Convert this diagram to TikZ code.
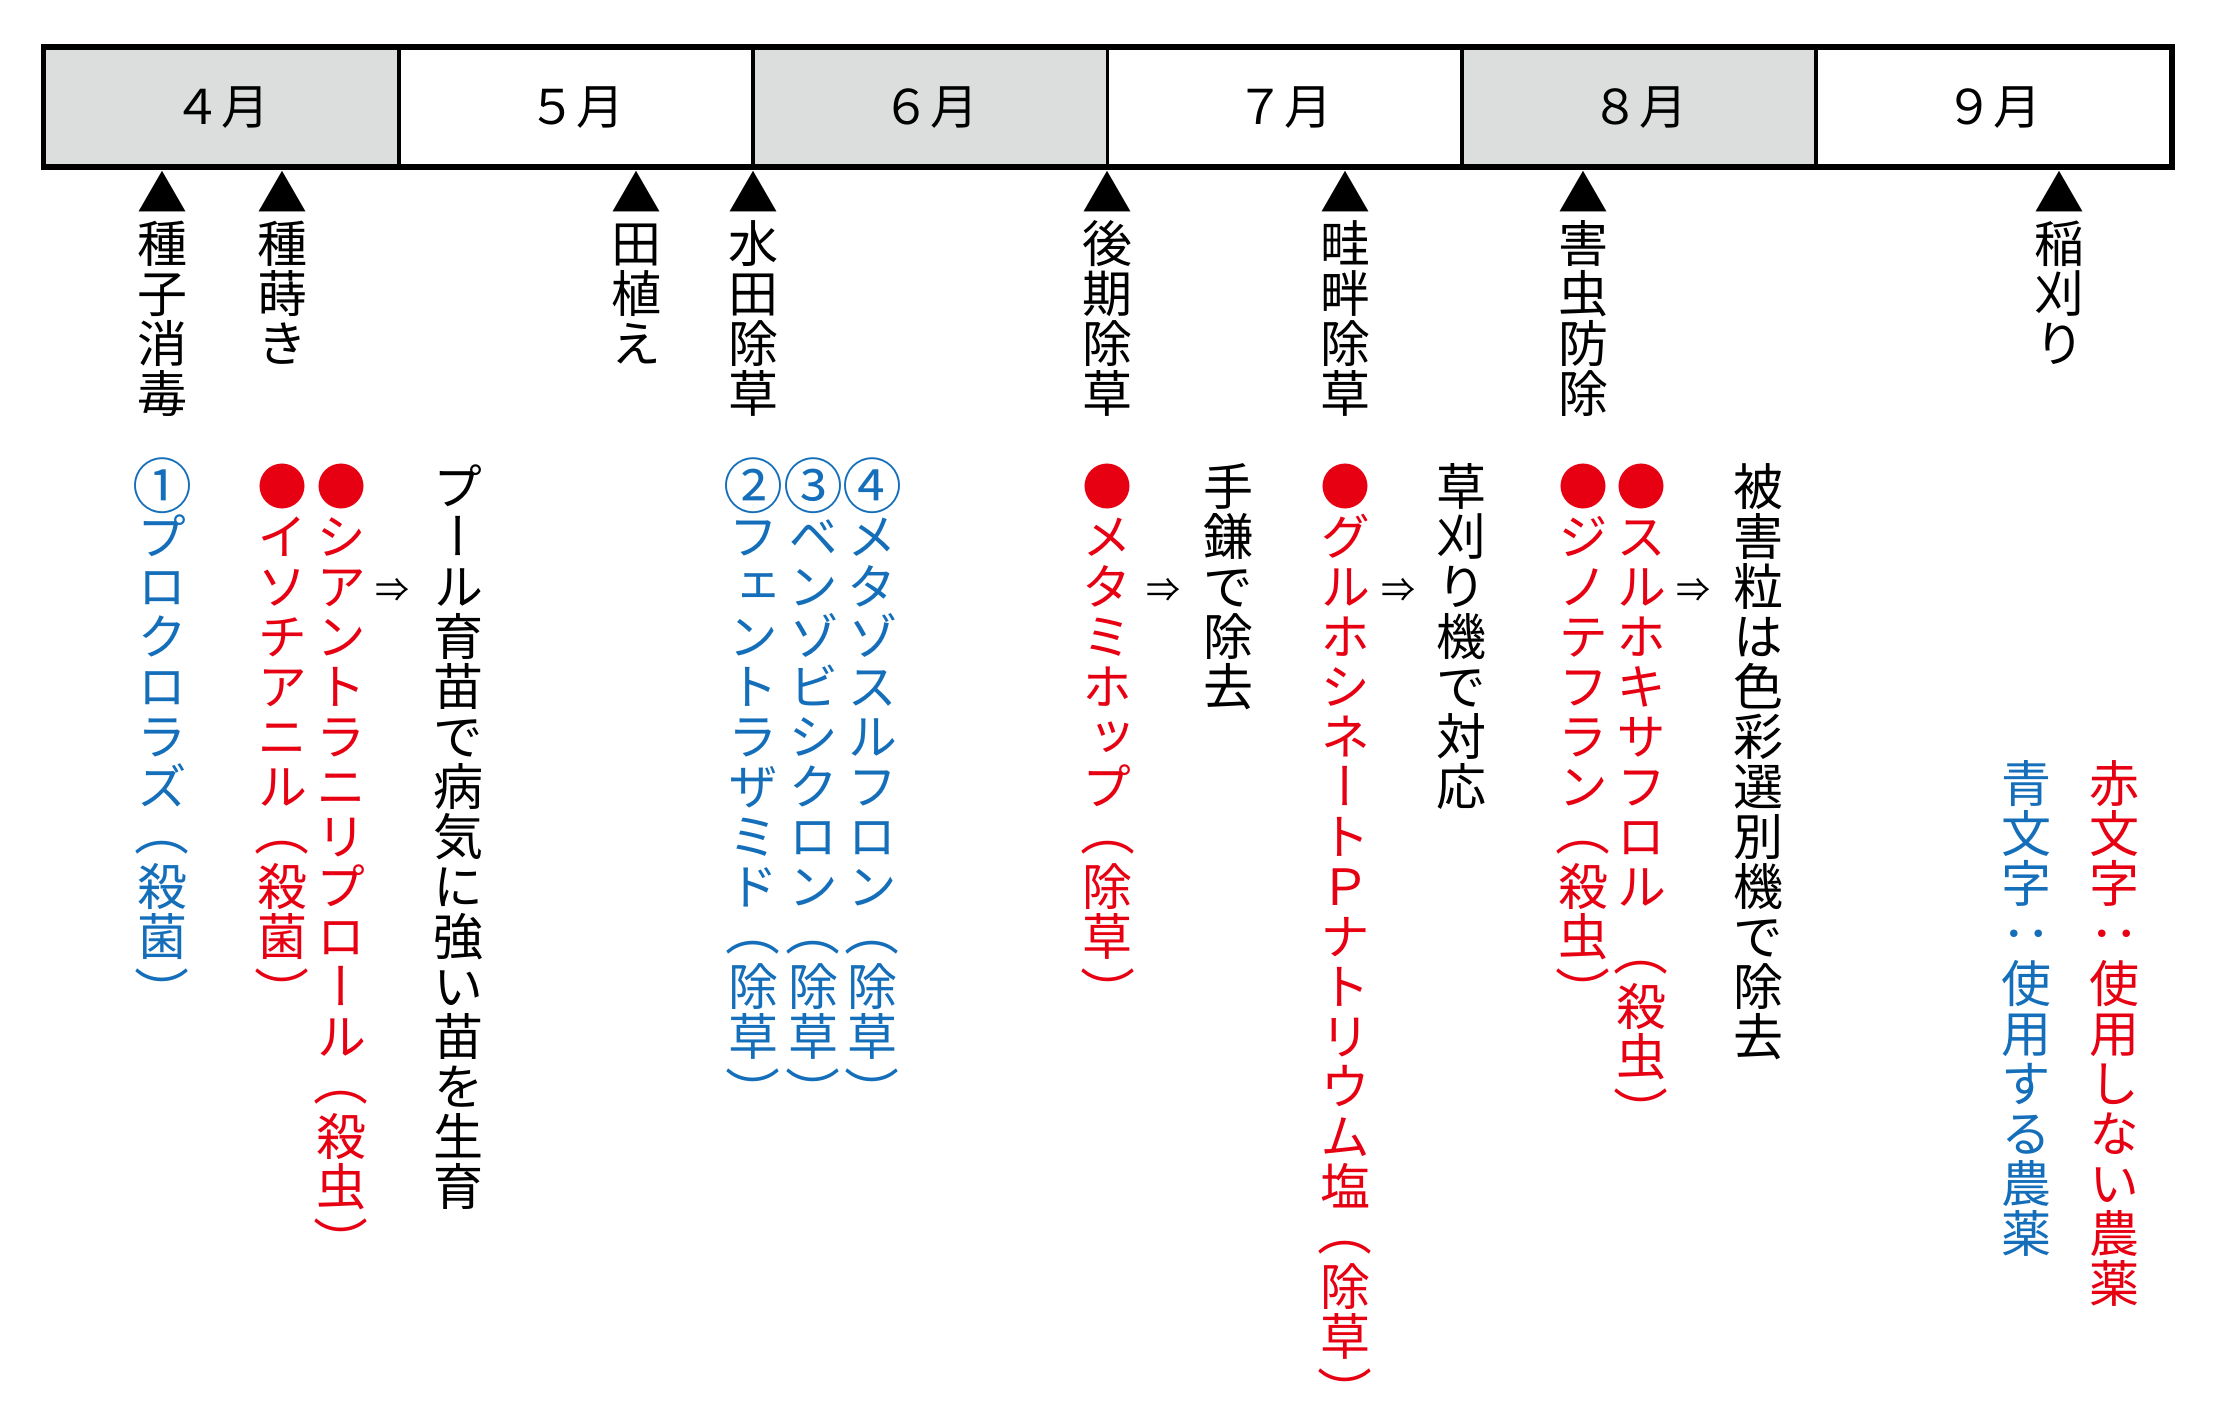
\documentclass[tikz,border=0pt]{standalone}
\usepackage{graphicx}
\usepackage{fontspec}
\newfontfamily\jp{Noto Sans CJK JP}
\newfontfamily\jpv[RawFeature=+vert]{Noto Sans CJK JP}
\definecolor{jred}{RGB}{230,0,18}
\definecolor{jblue}{RGB}{20,110,185}
\definecolor{hdrgray}{RGB}{220,221,221}
\ExplSyntaxOn
\cs_new:Npn \my_vglyph:n #1
  {
    \str_case:nnF {#1}
      {
        {（} { \makebox[0pt]{\raisebox{.09em}{\scalebox{1.1}[1]{#1}}} }
        {）} { \makebox[0pt]{\raisebox{-.1em}{\scalebox{1.1}[1]{#1}}} }
        {①} { \makebox[0pt]{\raisebox{-.07em}{\scalebox{1.2}{#1}}} }
        {②} { \makebox[0pt]{\raisebox{-.07em}{\scalebox{1.2}{#1}}} }
        {③} { \makebox[0pt]{\raisebox{-.07em}{\scalebox{1.2}{#1}}} }
        {④} { \makebox[0pt]{\raisebox{-.07em}{\scalebox{1.2}{#1}}} }
      }
      { #1 }
  }
\NewDocumentCommand\vtlines{m}{
  \tl_map_inline:nn {#1} {
    \hbox_to_wd:nn {1em} { \hss \vrule height .88em depth .12em width 0pt \smash{\my_vglyph:n {##1}} \hss }
  }
}
\ExplSyntaxOff
\newcommand\vt[1]{\vbox{\offinterlineskip\vtlines{#1}}}
\tikzset{
  vlab/.style={inner sep=0pt, outer sep=0pt, anchor=north, font=\jpv\fontsize{50}{50}\selectfont},
  blk/.style={vlab, text=black},
  redt/.style={vlab, text=jred},
  bluet/.style={vlab, text=jblue},
  arrow sign/.style={inner sep=0pt, font=\jp\fontsize{34}{34}\selectfont},
  month/.style={draw=black, line width=3.5pt, inner sep=0pt, minimum width=354.33pt,
    minimum height=117.7pt, font=\jp\fontsize{48}{48}\selectfont},
  graycell/.style={month, fill=hdrgray},
  whitecell/.style={month, fill=white},
}
\begin{document}
\begin{tikzpicture}[x=1pt,y=-1pt]
\useasboundingbox (0,0) rectangle (2216,1417);
% header
\node[graycell]  (m4) at (221.67,107.15) {４月};
\node[whitecell] (m5) at (576.0,107.15) {５月};
\node[graycell]  (m6) at (930.33,107.15) {６月};
\node[whitecell] (m7) at (1284.67,107.15) {７月};
\node[graycell]  (m8) at (1639.0,107.15) {８月};
\node[whitecell] (m9) at (1993.33,107.15) {９月};
\draw[line width=4.5pt] (m4.north west) rectangle (m9.south east);
% top labels
\node[blk] (t1) at (162.3,168) {\vt{▲種子消毒}};
\node[blk] (t2) at (282,168) {\vt{▲種蒔き}};
\node[blk] (t3) at (636,168) {\vt{▲田植え}};
\node[blk] (t4) at (753.2,168) {\vt{▲水田除草}};
\node[blk] (t5) at (1107.5,168) {\vt{▲後期除草}};
\node[blk] (t6) at (1345,168) {\vt{▲畦畔除草}};
\node[blk] (t7) at (1583,168) {\vt{▲害虫防除}};
\node[blk] (t8) at (2059,168) {\vt{▲稲刈り}};
% pesticides / measures
\node[bluet] (p1) at (162.3,461) {\vt{①プロクロラズ（殺菌）}};
\node[redt]  (p2) at (282,461) {\vt{●イソチアニル（殺菌）}};
\node[redt]  (p3) at (341,461) {\vt{●シアントラニリプロール（殺虫）}};
\node[arrow sign] (a1) at (392.7,590) {⇒};
\node[blk]   (n1) at (458,461) {\vt{プール育苗で病気に強い苗を生育}};
\node[bluet] (p4) at (753.2,461) {\vt{②フェントラザミド（除草）}};
\node[bluet] (p5) at (813,461) {\vt{③ベンゾビシクロン（除草）}};
\node[bluet] (p6) at (872,461) {\vt{④メタゾスルフロン（除草）}};
\node[redt]  (p7) at (1107.5,461) {\vt{●メタミホップ（除草）}};
\node[arrow sign] (a2) at (1163,590) {⇒};
\node[blk]   (n2) at (1228,461) {\vt{手鎌で除去}};
\node[redt]  (p8) at (1345,461) {\vt{●グルホシネートＰナトリウム塩（除草）}};
\node[arrow sign] (a3) at (1398,590) {⇒};
\node[blk]   (n3) at (1461.8,461) {\vt{草刈り機で対応}};
\node[redt]  (p9) at (1583,461) {\vt{●ジノテフラン（殺虫）}};
\node[redt]  (p10) at (1641,461) {\vbox{\offinterlineskip\vtlines{●スルホキサフロル}\kern.4em\vtlines{（殺虫）}}};
\node[arrow sign] (a4) at (1693,590) {⇒};
\node[blk]   (n4) at (1758,461) {\vt{被害粒は色彩選別機で除去}};
% legend
\node[redt]  (l1) at (2114,758) {\vt{赤文字：使用しない農薬}};
\node[bluet] (l2) at (2026,758) {\vt{青文字：使用する農薬}};
\end{tikzpicture}
\end{document}
